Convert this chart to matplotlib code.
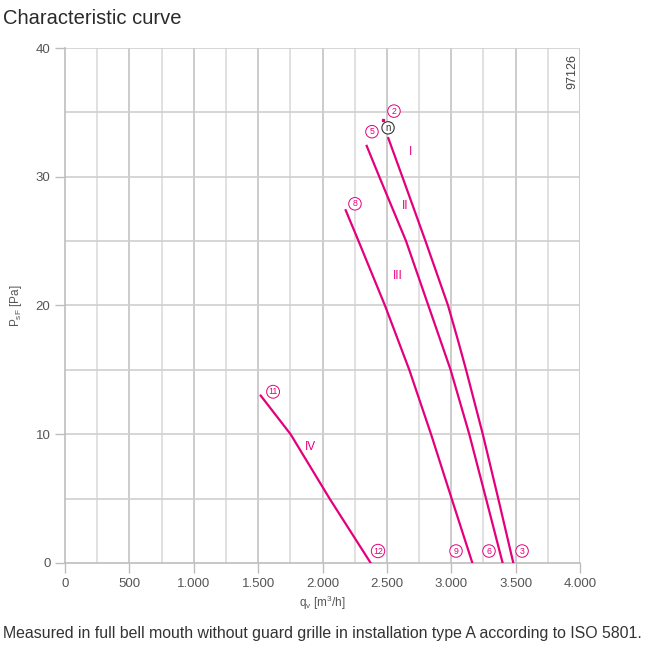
import matplotlib
matplotlib.use("Agg")
from matplotlib import pyplot as plt
import numpy as np

# curve data (q in m3/h, p in Pa)
q_I = [2511, 2620, 2800, 2975, 3052, 3115, 3245, 3365, 3482]
p_I = [33.0, 30.0, 25.0, 20.0, 17.3, 15.0, 10.0, 5.0, 0.0]

q_II = [2343, 2441, 2649, 2822, 2995, 3140, 3270, 3399]
p_II = [32.4, 30.0, 25.0, 20.0, 15.0, 10.0, 5.0, 0.0]

q_III = [2180, 2280, 2485, 2674, 2843, 3003, 3164]
p_III = [27.4, 25.0, 20.0, 15.0, 10.0, 5.0, 0.0]

q_IV = [1520, 1752, 2055, 2374]
p_IV = [13.0, 10.0, 5.0, 0.0]

curve_names = ['I', 'II', 'III', 'IV']
name_pos = [(2687, 31.9), (2641, 27.7), (2586, 22.3), (1903, 9.0)]

point_labels = ['2', '5', '8', '11', '12', '9', '6', '3']
point_pos = [(2555, 35.1), (2384, 33.5), (2252, 27.9), (1616, 13.3),
             (2431, 0.93), (3037, 0.93), (3293, 0.93), (3550, 0.93)]

x_ticks = [0, 500, 1000, 1500, 2000, 2500, 3000, 3500, 4000]
x_tick_labels = ['0', '500', '1.000', '1.500', '2.000', '2.500', '3.000', '3.500', '4.000']
y_ticks = [0, 10, 20, 30, 40]

pink = '#e4007c'
grey_txt = '#555555'
plt.rcParams['font.family'] = ['Liberation Sans', 'DejaVu Sans']

fig = plt.figure(figsize=(6.49, 6.48), dpi=100)
ax = fig.add_axes([0.1002, 0.1312, 0.7935, 0.7947])

ax.set_xlim(0, 4000)
ax.set_ylim(0, 40)

# grid
for x in np.arange(250, 4001, 250):
    c = '#c4c4c4' if x % 500 == 0 else '#dcdcdc'
    ax.axvline(x, color=c, lw=1.2, zorder=0)
for y in np.arange(5, 41, 5):
    ax.axhline(y, color='#cfcfcf', lw=1.2, zorder=0)

for q, p in [(q_I, p_I), (q_II, p_II), (q_III, p_III), (q_IV, p_IV)]:
    ax.plot(q, p, color=pink, lw=1.6, zorder=3, solid_joinstyle='round')

for name, (x, y) in zip(curve_names, name_pos):
    ax.text(x, y, name, color=pink, fontsize=8.5, ha='center', va='center')

for lab, (x, y) in zip(point_labels, point_pos):
    ax.text(x, y, lab, color=pink, fontsize=6.3, ha='center', va='center', zorder=4,
            bbox=dict(boxstyle='circle,pad=0.2', fc='white', ec=pink, lw=0.7))

# operating point marker
ax.text(2509, 33.8, 'n', color='#333333', fontsize=7, ha='center', va='center', zorder=4,
        bbox=dict(boxstyle='circle,pad=0.12', fc='white', ec='#333333', lw=0.8))
ax.plot([2470], [34.4], 's', color=pink, ms=1.4, zorder=4)

ax.text(3940, 38.2, '97126', rotation=90, fontsize=9, color='#444444',
        ha='center', va='center')

for s in ['top', 'right']:
    ax.spines[s].set_visible(False)
for s in ['left', 'bottom']:
    ax.spines[s].set_color('#bdbdbd')
    ax.spines[s].set_linewidth(1.2)

ax.set_xticks(x_ticks)
ax.set_xticklabels(x_tick_labels)
ax.set_yticks(y_ticks)
ax.tick_params(colors='#bdbdbd', labelcolor=grey_txt, labelsize=9.5, length=7, width=1.0)

ax.set_xlabel('q$_\\mathregular{v}$ [m$^\\mathregular{3}$/h]', fontsize=8.5, color=grey_txt, labelpad=3)
ax.set_ylabel('P$_\\mathregular{sF}$ [Pa]', fontsize=8.5, color=grey_txt, labelpad=8)

fig.text(0.005, 0.972, 'Characteristic curve', fontsize=14.5, color='#2a2a2a', ha='left', va='center')
fig.text(0.005, 0.023, 'Measured in full bell mouth without guard grille in installation type A according to ISO 5801.',
         fontsize=11.4, color='#333333', ha='left', va='center')

fig.savefig('out.png', dpi=100)
